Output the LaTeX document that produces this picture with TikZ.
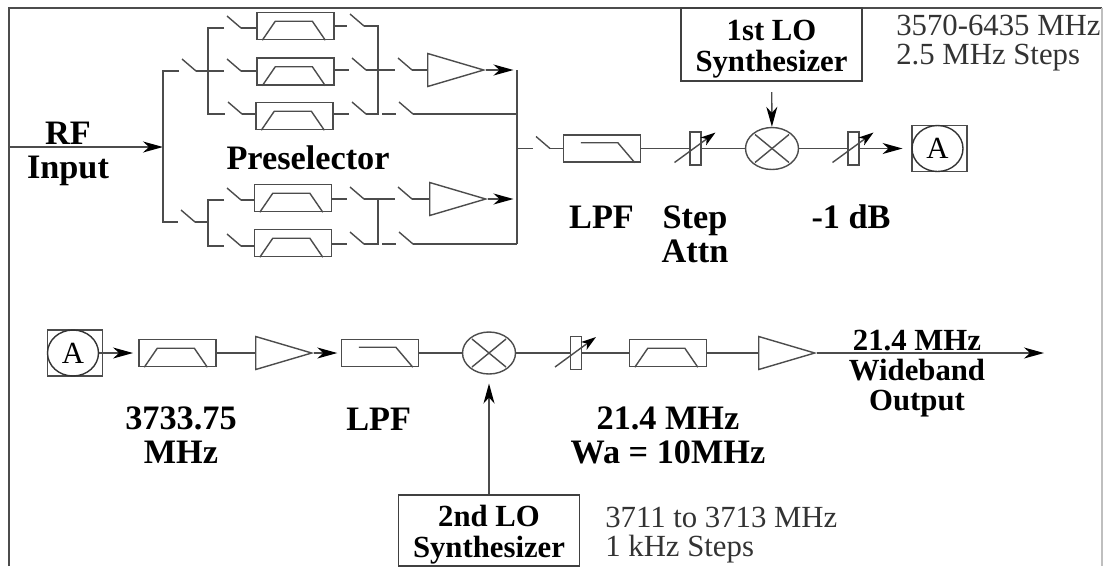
\documentclass[tikz,border=0pt]{standalone}
\usepackage{fontspec}
\setmainfont{Liberation Serif}
\usetikzlibrary{arrows.meta,calc,shapes.geometric}
\tikzset{
	wire/.style={line width=0.8pt, color=black!70},
	feed/.style={wire, -{Stealth[length=4mm, width=2.2mm, inset=1.2mm, black]}},
	tune/.style={wire, -{Stealth[length=3mm, width=1.9mm, inset=0.8mm, black]}},
	bluebox/.style={draw=black!70, line width=0.8pt, minimum width=1.54cm, minimum height=0.54cm, inner sep=0},
	attbox/.style={draw=black!70, line width=0.8pt, minimum width=0.22cm, minimum height=0.66cm, inner sep=0},
	ampbox/.style={draw=black!70, line width=0.8pt, isosceles triangle, isosceles triangle stretches, minimum width=0.66cm, minimum height=1.12cm, inner sep=0, anchor=lower side},
	mixbox/.style={draw=black!70, line width=0.8pt, ellipse, minimum width=1.06cm, minimum height=0.84cm, inner sep=0},
	portbox/.style={draw=black!70, line width=0.8pt, minimum width=1.1cm, minimum height=0.92cm, inner sep=0},
	portdot/.style={draw=black!80, line width=0.8pt, ellipse, minimum width=1.02cm, minimum height=0.92cm, inner sep=0, font=\fontsize{17.5}{18}\selectfont},
	synthbox/.style={draw=black!75, line width=0.8pt, minimum width=3.62cm, align=center, inner sep=0, text height=34.5pt, font=\fontsize{17.5}{17.6}\selectfont\bfseries},
	boldlabel/.style={align=center, inner sep=0, font=\fontsize{19.5}{19.3}\selectfont\bfseries},
	outlabel/.style={align=center, inner sep=0, font=\fontsize{17.5}{17}\selectfont\bfseries},
	notelabel/.style={align=left, anchor=west, inner sep=0, text=black!80, font=\fontsize{17.5}{16.8}\selectfont},
}
\def\switch(#1)(#2,#3){
	\coordinate (#1a) at ({#2-3},#3);
	\coordinate (#1b) at ({#2+14},#3);
	\draw[wire] (#2,{#3-12}) -- (#1b);
}
\def\bandpass(#1)(#2,#3){
	\node[bluebox] (#1) at (#2,#3) {};
	\draw[wire] ($(#1.south west)+(6,0)$) -- ++(13,-19) -- ++(37,0) -- ++(13,19);
}
\def\lowpass(#1)(#2,#3){
	\node[bluebox] (#1) at (#2,#3) {};
	\draw[wire] ($(#1.south west)+(18,-20)$) -- ++(37,0) -- ++(17,20);
}
\def\attenuator(#1)(#2,#3){
	\node[attbox] (#1) at (#2,#3) {};
	\draw[tune] ($(#1)+(-21,14)$) -- ($(#1)+(20,-16)$);
}
\def\mixer(#1)(#2,#3){
	\node[mixbox] (#1) at (#2,#3) {};
	\draw[wire] ($(#1)+(-17,-14)$) -- ($(#1)+(17,14)$);
	\draw[wire] ($(#1)+(-17,14)$) -- ($(#1)+(17,-14)$);
}

\begin{document}
\begin{tikzpicture}[x=0.02cm, y=-0.02cm]
	\useasboundingbox (0,0) rectangle (1104,566);

	% frame, open at the bottom
	\draw[line width=0.9pt, color=black!70] (9,566) -- (9,8) -- (1102,8);
	\draw[line width=1.2pt, color=black!25] (1102,8) -- (1102,566);

	% preselector
	\coordinate (rfin) at (9,147);
	\coordinate (inbus) at (163,147);
	\draw[feed] (rfin) -- (inbus);

	\switch(swin1)(182,71);
	\switch(swin2)(181,222);
	\draw[wire] (swin1a) -| (inbus) |- (swin2a);

	\coordinate (busa) at (208,71);
	\switch(swa1)(227,28);
	\switch(swa2)(227,71);
	\switch(swa3)(228,114);
	\draw[wire] (swa1a) -| (busa) |- (swa3a);
	\draw[wire] (swin1b) -- (swa2a);

	\bandpass(bpfa1)(295.5,26);
	\bandpass(bpfa2)(295.5,71.5);
	\bandpass(bpfa3)(294.5,116);
	\draw[wire] (swa1b) -- (swa1b -| bpfa1.west);
	\draw[wire] (swa2b) -- (swa2b -| bpfa2.west);
	\draw[wire] (swa3b) -- (swa3b -| bpfa3.west);

	\switch(swb1)(350,26);
	\switch(swb2)(352,70);
	\switch(swb3)(352,114);
	\draw[wire] (bpfa1.east |- swb1a) -- (swb1a);
	\draw[wire] (bpfa2.east |- swb2a) -- (swb2a);
	\draw[wire] (bpfa3.east |- swb3a) -- (swb3a);

	\coordinate (busb) at (378,70);
	\draw[wire] (swb1b) -| (busb) |- (swb3b);

	\switch(swc1)(398,70);
	\switch(swc2)(399,114);
	\coordinate (stubc) at (382,114);
	\draw[wire] (swb2b) -- (swc1a);
	\draw[wire] (stubc) -- (swc2a);

	\node[ampbox] (ampa) at (427,70) {};
	\draw[wire] (swc1b) -- (ampa.lower side);

	\coordinate (bust) at (517,70);
	\coordinate (busm) at (517,148.5);
	\coordinate (busl) at (517,244);
	\draw[wire] (bust) -- (busl);
	\draw[feed, shorten >=2] (ampa.apex) -- (bust);
	\draw[wire] (swc2b) -- (swc2b -| bust);

	% lower branch
	\coordinate (busd) at (208,222);
	\draw[wire] (swin2b) -- (busd);
	\switch(swd1)(227,200);
	\switch(swd2)(227,246);
	\draw[wire] (swd1a) -| (busd) |- (swd2a);

	\bandpass(bpfb1)(293,198);
	\bandpass(bpfb2)(293,243);
	\draw[wire] (swd1b) -- (swd1b -| bpfb1.west);
	\draw[wire] (swd2b) -- (swd2b -| bpfb2.west);

	\switch(swe1)(350,199);
	\switch(swe2)(350,244);
	\draw[wire] (bpfb1.east |- swe1a) -- (swe1a);
	\draw[wire] (bpfb2.east |- swe2a) -- (swe2a);

	\coordinate (buse) at (378,199);
	\draw[wire] (swe2b) -| (buse);

	\switch(swf1)(398,199);
	\switch(swf2)(399,244);
	\coordinate (stubf) at (382,244);
	\draw[wire] (swe1b) -- (swf1a);
	\draw[wire] (stubf) -- (swf2a);

	\node[ampbox] (ampb) at (429,199) {};
	\draw[wire] (swf1b) -- (ampb.lower side);
	\draw[feed, shorten >=2] (ampb.apex) -- (ampb.apex -| bust);
	\draw[wire] (swf2b) -- (busl);

	% top row
	\switch(swout)(536,148.5);
	\draw[wire] (busm) -- (swouta);

	\lowpass(lpfa)(602,148.5);
	\attenuator(atta)(695.5,148.5);
	\mixer(mixa)(772,148.5);
	\attenuator(attb)(853.5,148.5);
	\node[portbox] (porta) at (939.5,148.5) {};
	\node[portdot] (dota) at (937.5,148.5) {A};
	\draw[wire] (swoutb) -- (lpfa);
	\draw[wire] (lpfa) -- (atta);
	\draw[wire] (atta) -- (mixa);
	\draw[wire] (mixa) -- (attb);
	\draw[feed, shorten >=5] (attb) -- (porta);

	\node[synthbox, minimum height=1.46cm] (loa) at (771.5,44.5) {1st LO\\Synthesizer};
	\draw[feed, shorten <=6] (loa) -- (mixa);

	% bottom row
	\node[portbox] (portb) at (75,353) {};
	\node[portdot] (dotb) at (73,353) {A};
	\bandpass(bpfc)(177.5,353);
	\node[ampbox] (ampc) at (255,353) {};
	\lowpass(lpfb)(380,353);
	\mixer(mixb)(489,353);
	\attenuator(attc)(576,353);
	\bandpass(bpfd)(668,353);
	\node[ampbox] (ampd) at (758,353) {};
	\coordinate (rfout) at (1044,353);
	\draw[feed, shorten >=3] (dotb) -- (bpfc);
	\draw[wire] (bpfc) -- (ampc.lower side);
	\draw[feed, shorten >=2] (ampc.apex) -- (lpfb);
	\draw[wire] (lpfb) -- (mixb);
	\draw[wire] (mixb) -- (attc);
	\draw[wire] (attc) -- (bpfd);
	\draw[wire] (bpfd) -- (ampd.lower side);
	\draw[feed] (ampd.apex) -- (rfout);

	\node[synthbox, minimum height=1.42cm] (lob) at (489,530.5) {2nd LO\\Synthesizer};
	\draw[feed, shorten >=5] (lob) -- (mixb);

	% labels
	\node[boldlabel] (rflabel) at (68,153.5) {RF\\Input};
	\node[boldlabel] (preselabel) at (308,158) {Preselector};
	\node[boldlabel] (lpfalabel) at (601.5,217) {LPF};
	\node[boldlabel] (attlabel) at (695,234) {Step\\Attn};
	\node[boldlabel] (dblabel) at (851,217) {-1 dB};
	\node[boldlabel] (iflabel) at (181,435) {3733.75\\MHz};
	\node[boldlabel] (lpfblabel) at (378.6,419) {LPF};
	\node[boldlabel] (bwlabel) at (668,435) {21.4 MHz\\Wa = 10MHz};
	\node[outlabel] (widelabel) at (917,373.5) {21.4 MHz\\Wideband\\Output};
	\node[notelabel] (lonotea) at (896,43) {3570-6435 MHz\\2.5 MHz Steps};
	\node[notelabel] (lonoteb) at (605,535) {3711 to 3713 MHz\\1 kHz Steps};
\end{tikzpicture}
\end{document}
